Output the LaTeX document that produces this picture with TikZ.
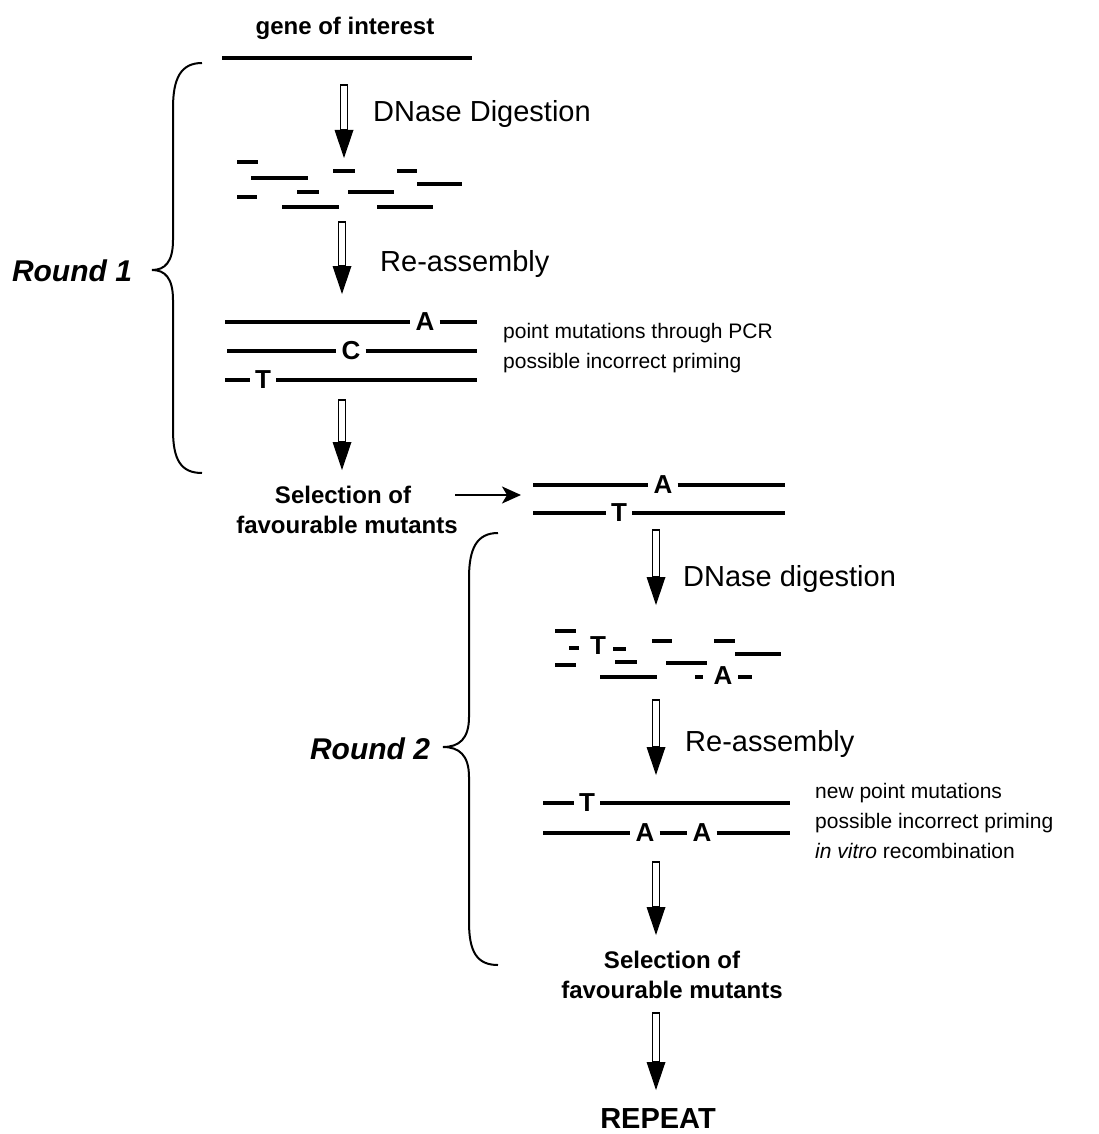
\documentclass[tikz,border=0pt]{standalone}
\usepackage{fontspec}
\setmainfont{Liberation Sans}
\usetikzlibrary{arrows.meta, calc}

% hollow shaft with a solid head, from (#1) down to (#2)
\newcommand{\hollowarrow}[2]{%
  \draw[line width=1.4pt] ($(#1)+(-3.5,0)$) rectangle ($(#2)+(3.5,-28)$);
  \fill ($(#2)+(-9.5,-28)$) -- ($(#2)+(9.5,-28)$) -- (#2) -- cycle;
}

\begin{document}
\begin{tikzpicture}[x=1pt, y=-1pt,
    strand/.style={line width=4pt},
    base/.style={font=\bfseries\fontsize{26}{28}\selectfont, inner xsep=5pt, inner ysep=0pt},
    stagetext/.style={font=\fontsize{29}{32}\selectfont, inner sep=0pt, anchor=base west},
    note/.style={font=\fontsize{21}{25}\selectfont, inner sep=0pt, anchor=base west},
    boldtext/.style={font=\bfseries\fontsize{24}{28}\selectfont, inner sep=0pt, anchor=base},
    roundtext/.style={font=\bfseries\itshape\fontsize{30}{32}\selectfont, inner sep=0pt, anchor=base},
    brace/.style={line width=2pt}]
    \useasboundingbox (0,0) rectangle (1099,1134);

    % starting gene
    \node[boldtext] (gene) at (345,35) {gene of interest};
    \draw[strand] (222,58) -- (472,58);

    % round 1
    \node[stagetext] (dig1) at (373,122) {DNase Digestion};
    \foreach \xa/\xb/\y in {237/258/162, 251/308/178, 333/355/171, 397/417/171, 417/462/184,
                            237/257/197, 297/319/192, 348/394/192, 282/339/207, 377/433/207}
        \draw[strand] (\xa,\y) -- (\xb,\y);
    \node[stagetext] (asm1) at (380,271) {Re-assembly};

    \node[base] (mA1) at (425,322) {A};
    \node[base] (mC1) at (351,351) {C};
    \node[base] (mT1) at (263,380) {T};
    \draw[strand] (225,322) -- (mA1.west);
    \draw[strand] (mA1.east) -- (477,322);
    \draw[strand] (227,351) -- (mC1.west);
    \draw[strand] (mC1.east) -- (477,351);
    \draw[strand] (225,380) -- (mT1.west);
    \draw[strand] (mT1.east) -- (477,380);
    \node[note] (pcr1) at (503,338) {point mutations through PCR};
    \node[note] (prim1) at (503,368) {possible incorrect priming};

    \node[boldtext] (sel1) at (343,503) {Selection of};
    \node[boldtext] (fav1) at (347,533) {favourable mutants};

    \draw[brace] (202,63) .. controls (181,63) and (173,78) .. (173,108) -- (173,240)
        .. controls (173,262) and (165,270) .. (152,270)
        .. controls (165,270) and (173,278) .. (173,300) -- (173,430)
        .. controls (173,460) and (181,473) .. (202,473);
    \node[roundtext] (round1) at (72,281) {Round 1};

    % selected mutants
    \node[base] (mA2) at (663,485) {A};
    \node[base] (mT2) at (619,513) {T};
    \draw[strand] (533,485) -- (mA2.west);
    \draw[strand] (mA2.east) -- (785,485);
    \draw[strand] (533,513) -- (mT2.west);
    \draw[strand] (mT2.east) -- (785,513);
    \coordinate (pickstart) at (455,495);
    \coordinate (pickend) at (521,495);
    \draw[line width=2.2pt, -{Stealth[length=19pt, width=17pt, inset=5pt]}] (pickstart) -- (pickend);

    % round 2
    \node[stagetext] (dig2) at (683,586) {DNase digestion};
    \foreach \xa/\xb/\y in {555/576/631, 569/579/648, 613/626/649, 652/672/641, 714/735/641,
                            735/781/654, 555/576/665, 615/637/662, 666/707/663, 600/657/677,
                            695/703/677, 738/752/677}
        \draw[strand] (\xa,\y) -- (\xb,\y);
    \node[base] (fT) at (598,646) {T};
    \node[base] (fA) at (723,676) {A};
    \node[stagetext] (asm2) at (685,751) {Re-assembly};

    \node[base] (mT3) at (587,803) {T};
    \node[base] (mA3) at (645,833) {A};
    \node[base] (mA4) at (702,833) {A};
    \draw[strand] (543,803) -- (mT3.west);
    \draw[strand] (mT3.east) -- (790,803);
    \draw[strand] (543,833) -- (mA3.west);
    \draw[strand] (mA3.east) -- (mA4.west);
    \draw[strand] (mA4.east) -- (790,833);
    \node[note] (newpm) at (815,798) {new point mutations};
    \node[note] (prim2) at (815,828) {possible incorrect priming};
    \node[note] (vitro) at (815,858) {\textit{in vitro} recombination};

    \node[boldtext] (sel2) at (672,968) {Selection of};
    \node[boldtext] (fav2) at (672,998) {favourable mutants};

    \draw[brace] (498,533) .. controls (477,533) and (469,548) .. (469,578) -- (469,717)
        .. controls (469,739) and (459,747) .. (443,747)
        .. controls (459,747) and (469,755) .. (469,777) -- (469,922)
        .. controls (469,952) and (477,965) .. (498,965);
    \node[roundtext] (round2) at (370,759) {Round 2};

    \node[font=\bfseries\fontsize{29}{32}\selectfont, inner sep=0pt, anchor=base] (repeat) at (658,1128) {REPEAT};

    % process arrows
    \foreach \n/\x/\ya/\yb in {1/344/85/158, 2/342/222/294, 3/342/400/470, 4/656/530/605,
                               5/656/700/775, 6/656/862/935, 7/656/1013/1090} {
        \coordinate (top\n) at (\x,\ya);
        \coordinate (tip\n) at (\x,\yb);
        \hollowarrow{top\n}{tip\n}
    }
\end{tikzpicture}
\end{document}
